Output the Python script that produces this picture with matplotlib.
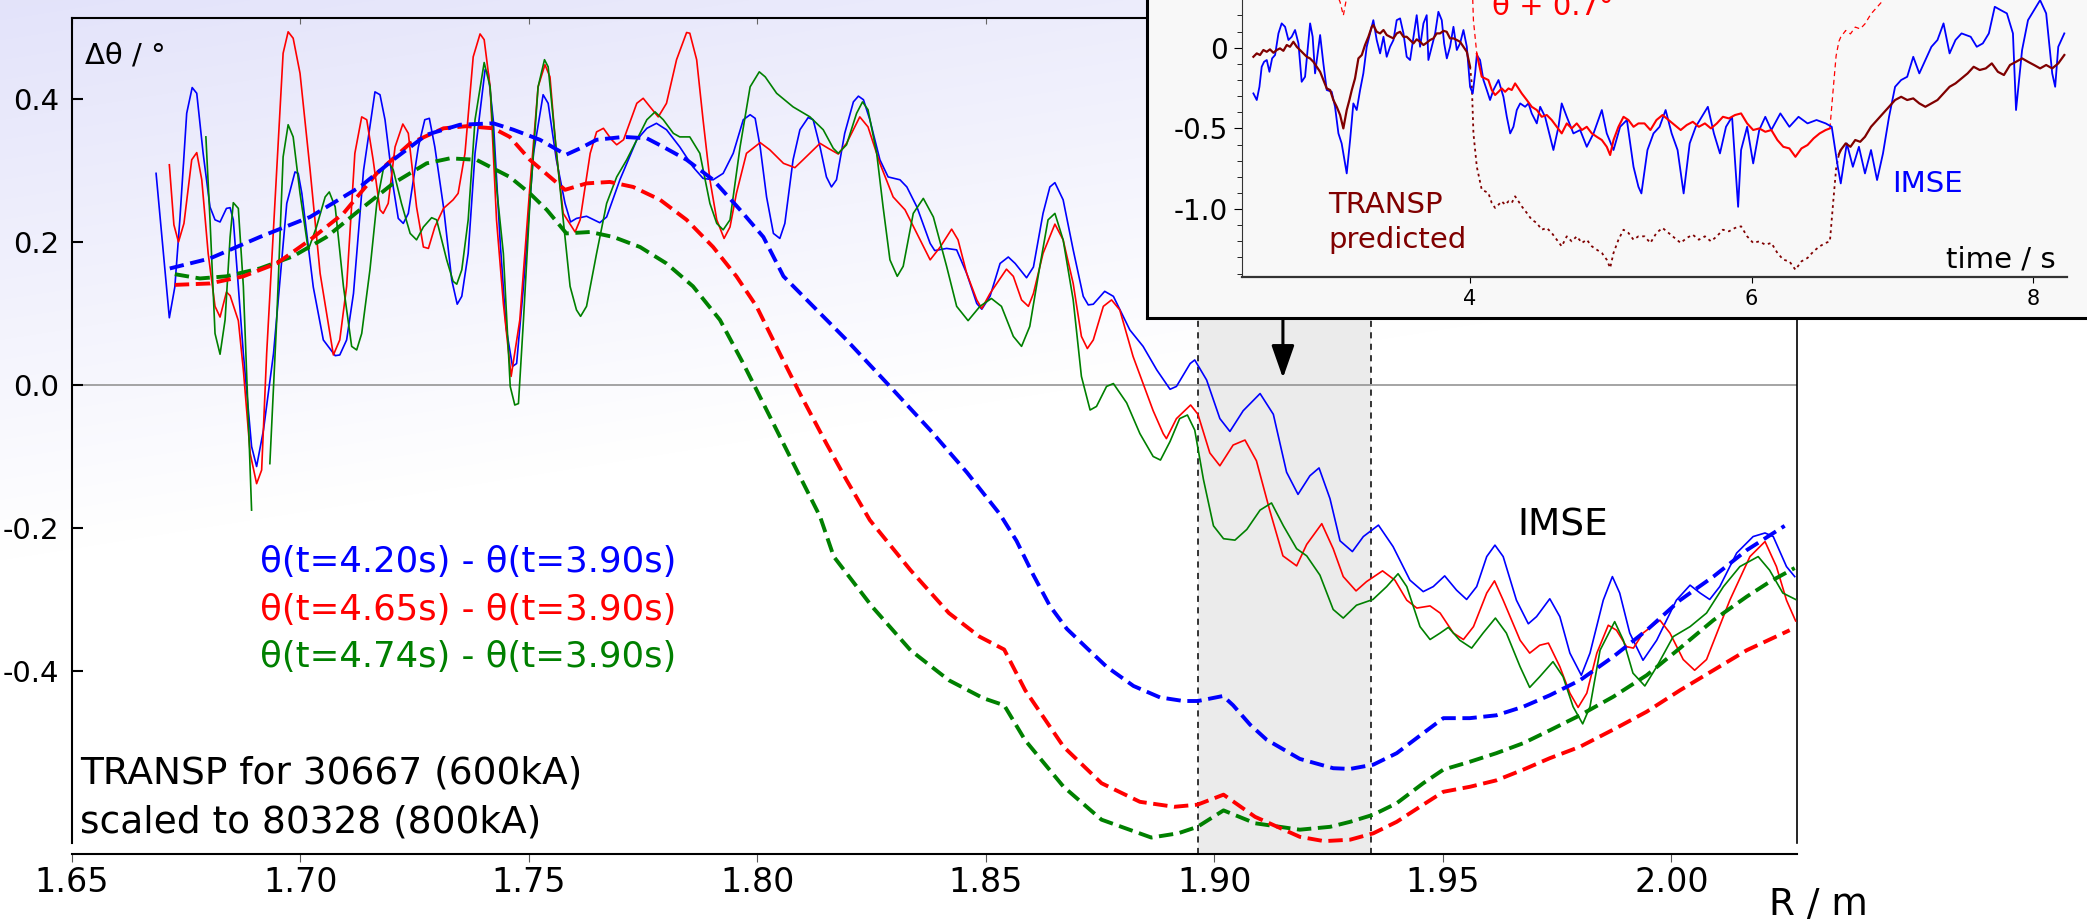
import numpy as np
import matplotlib
matplotlib.use('Agg')
import matplotlib.pyplot as plt
from matplotlib.ticker import FormatStrFormatter

plt.rcParams['axes.unicode_minus'] = False

W, H = 2087, 922

# ---------------- main panel: IMSE differences (solid) ----------------
blue_r = [1.6684, 1.6713, 1.6725, 1.6736, 1.6751, 1.6763, 1.6773, 1.6787, 1.6802, 1.6813,
          1.6824, 1.6838, 1.6846, 1.6853, 1.6864, 1.6875, 1.6893, 1.6904, 1.6919, 1.6941,
          1.6970, 1.6988, 1.6995, 1.7003, 1.7028, 1.7050, 1.7076, 1.7086, 1.7101, 1.7116,
          1.7138, 1.7163, 1.7174, 1.7185, 1.7203, 1.7214, 1.7225, 1.7236, 1.7258, 1.7272,
          1.7282, 1.7294, 1.7313, 1.7331, 1.7343, 1.7353, 1.7367, 1.7382, 1.7404, 1.7411,
          1.7422, 1.7437, 1.7450, 1.7464, 1.7473, 1.7488, 1.7510, 1.7531, 1.7542, 1.7560,
          1.7579, 1.7591, 1.7604, 1.7626, 1.7655, 1.7670, 1.7699, 1.7736, 1.7758, 1.7779,
          1.7801, 1.7830, 1.7859, 1.7881, 1.7903, 1.7925, 1.7947, 1.7969, 1.7984, 1.7995,
          1.8006, 1.8020, 1.8035, 1.8049, 1.8060, 1.8078, 1.8093, 1.8111, 1.8122, 1.8137,
          1.8151, 1.8162, 1.8173, 1.8191, 1.8210, 1.8221, 1.8232, 1.8246, 1.8268, 1.8286,
          1.8312, 1.8327, 1.8349, 1.8378, 1.8388, 1.8414, 1.8436, 1.8458, 1.8480, 1.8491,
          1.8509, 1.8531, 1.8549, 1.8564, 1.8589, 1.8604, 1.8625, 1.8640, 1.8651, 1.8669,
          1.8691, 1.8713, 1.8724, 1.8735, 1.8760, 1.8779, 1.8815, 1.8844, 1.8874, 1.8903,
          1.8917, 1.8947, 1.8957, 1.8983, 1.9012, 1.9034, 1.9063, 1.9100, 1.9129, 1.9158,
          1.9183, 1.9209, 1.9229, 1.9253, 1.9275, 1.9302, 1.9326, 1.9359, 1.9391, 1.9428,
          1.9457, 1.9479, 1.9504, 1.9530, 1.9552, 1.9574, 1.9596, 1.9614, 1.9632, 1.9661,
          1.9687, 1.9705, 1.9734, 1.9756, 1.9778, 1.9803, 1.9822, 1.9851, 1.9871, 1.9887,
          1.9909, 1.9938, 1.9968, 2.0011, 2.0041, 2.0063, 2.0084, 2.0106, 2.0143, 2.0179,
          2.0205, 2.0223, 2.0252, 2.0270]
blue_v = [0.296, 0.094, 0.137, 0.231, 0.380, 0.416, 0.408, 0.324, 0.249, 0.231,
          0.228, 0.247, 0.248, 0.231, 0.138, 0.044, -0.086, -0.114, -0.063, 0.044,
          0.254, 0.298, 0.296, 0.268, 0.137, 0.063, 0.041, 0.042, 0.063, 0.128,
          0.300, 0.410, 0.406, 0.371, 0.277, 0.233, 0.226, 0.240, 0.333, 0.371,
          0.373, 0.333, 0.249, 0.147, 0.113, 0.124, 0.184, 0.324, 0.441, 0.436,
          0.370, 0.200, 0.080, 0.026, 0.030, 0.138, 0.324, 0.406, 0.394, 0.315,
          0.254, 0.228, 0.233, 0.236, 0.227, 0.235, 0.287, 0.343, 0.359, 0.366,
          0.357, 0.333, 0.305, 0.289, 0.287, 0.296, 0.324, 0.371, 0.378, 0.373,
          0.333, 0.263, 0.212, 0.205, 0.226, 0.315, 0.357, 0.374, 0.371, 0.333,
          0.291, 0.277, 0.287, 0.352, 0.396, 0.404, 0.399, 0.371, 0.315, 0.291,
          0.287, 0.277, 0.249, 0.198, 0.188, 0.191, 0.189, 0.156, 0.114, 0.106,
          0.124, 0.170, 0.179, 0.170, 0.150, 0.165, 0.240, 0.277, 0.283, 0.259,
          0.189, 0.124, 0.112, 0.113, 0.131, 0.124, 0.077, 0.054, 0.021, -0.006,
          -0.002, 0.030, 0.035, 0.007, -0.047, -0.065, -0.036, -0.012, -0.041, -0.122,
          -0.153, -0.127, -0.116, -0.159, -0.218, -0.233, -0.212, -0.196, -0.226, -0.273,
          -0.289, -0.282, -0.267, -0.287, -0.300, -0.282, -0.240, -0.224, -0.240, -0.301,
          -0.334, -0.324, -0.299, -0.324, -0.375, -0.406, -0.375, -0.301, -0.268, -0.291,
          -0.347, -0.385, -0.357, -0.301, -0.280, -0.291, -0.300, -0.282, -0.235, -0.212,
          -0.207, -0.212, -0.254, -0.268]

red_r = [1.6713, 1.6723, 1.6733, 1.6745, 1.6762, 1.6773, 1.6784, 1.6798, 1.6813, 1.6824,
         1.6838, 1.6846, 1.6864, 1.6875, 1.6890, 1.6904, 1.6915, 1.6926, 1.6948, 1.6962,
         1.6973, 1.6984, 1.6999, 1.7021, 1.7043, 1.7072, 1.7086, 1.7101, 1.7119, 1.7134,
         1.7145, 1.7159, 1.7174, 1.7181, 1.7192, 1.7207, 1.7224, 1.7236, 1.7254, 1.7269,
         1.7280, 1.7294, 1.7313, 1.7334, 1.7345, 1.7360, 1.7378, 1.7393, 1.7402, 1.7415,
         1.7429, 1.7444, 1.7461, 1.7480, 1.7502, 1.7520, 1.7535, 1.7546, 1.7560, 1.7575,
         1.7601, 1.7612, 1.7634, 1.7648, 1.7663, 1.7681, 1.7692, 1.7707, 1.7736, 1.7750,
         1.7765, 1.7783, 1.7801, 1.7823, 1.7845, 1.7852, 1.7867, 1.7881, 1.7896, 1.7911,
         1.7927, 1.7940, 1.7954, 1.7976, 1.8006, 1.8027, 1.8057, 1.8082, 1.8100, 1.8137,
         1.8155, 1.8177, 1.8195, 1.8224, 1.8242, 1.8268, 1.8297, 1.8323, 1.8349, 1.8378,
         1.8400, 1.8425, 1.8439, 1.8458, 1.8480, 1.8491, 1.8509, 1.8545, 1.8560, 1.8578,
         1.8593, 1.8604, 1.8625, 1.8651, 1.8669, 1.8691, 1.8709, 1.8722, 1.8735, 1.8757,
         1.8775, 1.8793, 1.8822, 1.8844, 1.8866, 1.8888, 1.8895, 1.8917, 1.8948, 1.8964,
         1.8990, 1.9012, 1.9041, 1.9067, 1.9092, 1.9121, 1.9150, 1.9180, 1.9202, 1.9235,
         1.9260, 1.9282, 1.9310, 1.9333, 1.9368, 1.9395, 1.9421, 1.9443, 1.9472, 1.9494,
         1.9523, 1.9545, 1.9567, 1.9596, 1.9613, 1.9632, 1.9669, 1.9690, 1.9712, 1.9731,
         1.9756, 1.9778, 1.9796, 1.9815, 1.9837, 1.9862, 1.9880, 1.9902, 1.9917, 1.9938,
         1.9975, 1.9997, 2.0026, 2.0051, 2.0077, 2.0128, 2.0172, 2.0205, 2.0230, 2.0252,
         2.0272]
red_v = [0.308, 0.224, 0.200, 0.226, 0.315, 0.325, 0.287, 0.184, 0.110, 0.095,
         0.130, 0.125, 0.090, 0.021, -0.096, -0.138, -0.119, 0.044, 0.301, 0.464,
         0.494, 0.485, 0.436, 0.301, 0.156, 0.042, 0.063, 0.138, 0.324, 0.375,
         0.371, 0.315, 0.245, 0.240, 0.254, 0.333, 0.365, 0.352, 0.249, 0.193,
         0.191, 0.221, 0.247, 0.259, 0.268, 0.324, 0.459, 0.491, 0.483, 0.417,
         0.231, 0.114, 0.012, 0.091, 0.277, 0.417, 0.448, 0.431, 0.324, 0.240,
         0.214, 0.231, 0.324, 0.354, 0.359, 0.343, 0.336, 0.343, 0.394, 0.401,
         0.389, 0.375, 0.394, 0.455, 0.493, 0.492, 0.455, 0.371, 0.287, 0.231,
         0.205, 0.221, 0.268, 0.324, 0.339, 0.329, 0.310, 0.304, 0.315, 0.338,
         0.331, 0.323, 0.338, 0.375, 0.361, 0.310, 0.263, 0.245, 0.212, 0.175,
         0.193, 0.218, 0.203, 0.156, 0.119, 0.107, 0.128, 0.162, 0.152, 0.119,
         0.110, 0.128, 0.184, 0.225, 0.203, 0.142, 0.068, 0.051, 0.063, 0.110,
         0.119, 0.105, 0.040, 0.002, -0.036, -0.068, -0.075, -0.047, -0.028, -0.041,
         -0.095, -0.113, -0.084, -0.077, -0.106, -0.175, -0.239, -0.253, -0.223, -0.194,
         -0.229, -0.268, -0.288, -0.275, -0.260, -0.273, -0.301, -0.312, -0.309, -0.319,
         -0.347, -0.356, -0.338, -0.291, -0.274, -0.301, -0.357, -0.375, -0.364, -0.361,
         -0.394, -0.431, -0.451, -0.431, -0.375, -0.336, -0.343, -0.366, -0.368, -0.347,
         -0.329, -0.347, -0.384, -0.399, -0.384, -0.301, -0.240, -0.219, -0.254, -0.301,
         -0.330]

green_r = [1.6793, 1.6802, 1.6813, 1.6824, 1.6835, 1.6846, 1.6853, 1.6864, 1.6875, 1.6886,
           1.6893, 1.6913, 1.6933, 1.6948, 1.6962, 1.6973, 1.6984, 1.6999, 1.7017, 1.7035,
           1.7054, 1.7063, 1.7076, 1.7094, 1.7112, 1.7123, 1.7134, 1.7152, 1.7167, 1.7181,
           1.7192, 1.7203, 1.7221, 1.7240, 1.7254, 1.7269, 1.7287, 1.7298, 1.7320, 1.7334,
           1.7342, 1.7353, 1.7367, 1.7382, 1.7402, 1.7415, 1.7429, 1.7444, 1.7459, 1.7469,
           1.7477, 1.7488, 1.7502, 1.7520, 1.7534, 1.7542, 1.7557, 1.7575, 1.7590, 1.7604,
           1.7613, 1.7626, 1.7648, 1.7670, 1.7692, 1.7714, 1.7736, 1.7758, 1.7776, 1.7794,
           1.7816, 1.7830, 1.7852, 1.7874, 1.7896, 1.7911, 1.7925, 1.7940, 1.7962, 1.7984,
           1.8004, 1.8017, 1.8042, 1.8078, 1.8115, 1.8144, 1.8166, 1.8177, 1.8195, 1.8217,
           1.8230, 1.8242, 1.8261, 1.8275, 1.8290, 1.8306, 1.8319, 1.8341, 1.8363, 1.8385,
           1.8414, 1.8436, 1.8461, 1.8487, 1.8512, 1.8534, 1.8560, 1.8578, 1.8596, 1.8618,
           1.8636, 1.8651, 1.8669, 1.8691, 1.8709, 1.8728, 1.8742, 1.8764, 1.8779, 1.8808,
           1.8837, 1.8866, 1.8882, 1.8903, 1.8924, 1.8941, 1.8957, 1.8976, 1.8998, 1.9020,
           1.9045, 1.9071, 1.9100, 1.9125, 1.9151, 1.9180, 1.9202, 1.9231, 1.9260, 1.9282,
           1.9311, 1.9347, 1.9377, 1.9402, 1.9421, 1.9450, 1.9472, 1.9494, 1.9512, 1.9537,
           1.9563, 1.9588, 1.9615, 1.9639, 1.9669, 1.9690, 1.9712, 1.9741, 1.9763, 1.9785,
           1.9806, 1.9822, 1.9844, 1.9876, 1.9895, 1.9916, 1.9942, 1.9968, 2.0004, 2.0041,
           2.0077, 2.0114, 2.0150, 2.0190, 2.0215, 2.0244, 2.0272]
green_v = [0.347, 0.231, 0.072, 0.043, 0.091, 0.207, 0.255, 0.247, 0.138, -0.049,
           -0.175, np.nan, -0.110, 0.091, 0.319, 0.364, 0.347, 0.268, 0.189, 0.221,
           0.263, 0.270, 0.249, 0.138, 0.054, 0.049, 0.072, 0.161, 0.254, 0.301,
           0.312, 0.301, 0.254, 0.212, 0.203, 0.221, 0.234, 0.231, 0.175, 0.145,
           0.141, 0.161, 0.231, 0.371, 0.451, 0.417, 0.277, 0.184, -0.002, -0.028,
           -0.026, 0.091, 0.254, 0.417, 0.455, 0.445, 0.347, 0.231, 0.138, 0.105,
           0.096, 0.110, 0.184, 0.254, 0.291, 0.315, 0.343, 0.371, 0.382, 0.371,
           0.352, 0.347, 0.347, 0.324, 0.254, 0.226, 0.217, 0.231, 0.333, 0.417,
           0.438, 0.431, 0.408, 0.389, 0.375, 0.357, 0.331, 0.324, 0.336, 0.380,
           0.396, 0.385, 0.324, 0.249, 0.175, 0.152, 0.166, 0.240, 0.261, 0.235,
           0.166, 0.110, 0.090, 0.110, 0.121, 0.110, 0.068, 0.054, 0.082, 0.166,
           0.231, 0.240, 0.203, 0.119, 0.012, -0.035, -0.030, -0.002, 0.002, -0.025,
           -0.068, -0.100, -0.105, -0.079, -0.047, -0.042, -0.063, -0.132, -0.197, -0.215,
           -0.217, -0.202, -0.175, -0.165, -0.197, -0.229, -0.239, -0.266, -0.314, -0.326,
           -0.308, -0.300, -0.282, -0.264, -0.282, -0.338, -0.356, -0.347, -0.339, -0.357,
           -0.368, -0.347, -0.326, -0.347, -0.394, -0.423, -0.408, -0.387, -0.408, -0.450,
           -0.474, -0.450, -0.371, -0.331, -0.357, -0.403, -0.421, -0.394, -0.352, -0.338,
           -0.319, -0.282, -0.254, -0.240, -0.259, -0.291, -0.300]

# ---------------- main panel: TRANSP predictions (dashed) ----------------
tr_blue_r = [1.6714, 1.6802, 1.6911, 1.7021, 1.7130, 1.7203, 1.7276, 1.7349, 1.7422, 1.7466,
             1.7524, 1.7581, 1.7612, 1.7648, 1.7707, 1.7758, 1.7794, 1.7845, 1.7903, 1.7962,
             1.8013, 1.8057, 1.8122, 1.8195, 1.8290, 1.8378, 1.8458, 1.8531, 1.8567, 1.8604,
             1.8640, 1.8677, 1.8721, 1.8764, 1.8823, 1.8881, 1.8932, 1.8964, 1.9019, 1.9041,
             1.9078, 1.9114, 1.9187, 1.9260, 1.9297, 1.9348, 1.9399, 1.9457, 1.9501, 1.9559,
             1.9617, 1.9676, 1.9734, 1.9800, 1.9873, 1.9946, 2.0019, 2.0092, 2.0165, 2.0248]
tr_blue_v = [0.163, 0.177, 0.207, 0.235, 0.277, 0.315, 0.350, 0.364, 0.366, 0.357,
             0.343, 0.322, 0.331, 0.343, 0.347, 0.345, 0.333, 0.315, 0.287, 0.245,
             0.207, 0.152, 0.110, 0.063, -0.002, -0.063, -0.122, -0.181, -0.218, -0.266,
             -0.309, -0.341, -0.368, -0.394, -0.421, -0.437, -0.442, -0.442, -0.435, -0.448,
             -0.475, -0.496, -0.523, -0.536, -0.537, -0.531, -0.515, -0.487, -0.466, -0.466,
             -0.462, -0.450, -0.434, -0.413, -0.380, -0.343, -0.301, -0.268, -0.231, -0.197]

tr_red_r = [1.6725, 1.6802, 1.6875, 1.6948, 1.7021, 1.7094, 1.7167, 1.7240, 1.7313, 1.7364,
            1.7422, 1.7458, 1.7502, 1.7579, 1.7626, 1.7677, 1.7728, 1.7787, 1.7845, 1.7903,
            1.7954, 1.7998, 1.8049, 1.8093, 1.8151, 1.8195, 1.8246, 1.8335, 1.8419, 1.8486,
            1.8540, 1.8586, 1.8670, 1.8753, 1.8837, 1.8912, 1.8963, 1.9020, 1.9089, 1.9187,
            1.9240, 1.9297, 1.9348, 1.9399, 1.9457, 1.9501, 1.9559, 1.9617, 1.9676, 1.9734,
            1.9800, 1.9873, 1.9946, 2.0019, 2.0092, 2.0165, 2.0259]
tr_red_v = [0.140, 0.142, 0.152, 0.170, 0.203, 0.240, 0.296, 0.338, 0.359, 0.362,
            0.359, 0.347, 0.315, 0.273, 0.282, 0.284, 0.277, 0.259, 0.231, 0.193,
            0.152, 0.110, 0.044, -0.012, -0.082, -0.133, -0.189, -0.259, -0.319, -0.352,
            -0.370, -0.427, -0.506, -0.557, -0.583, -0.590, -0.587, -0.573, -0.604, -0.632,
            -0.638, -0.636, -0.627, -0.611, -0.587, -0.569, -0.562, -0.553, -0.538, -0.522,
            -0.506, -0.482, -0.457, -0.427, -0.399, -0.371, -0.343]

tr_green_r = [1.6725, 1.6780, 1.6838, 1.6911, 1.6984, 1.7057, 1.7130, 1.7203, 1.7276, 1.7327,
              1.7385, 1.7458, 1.7502, 1.7539, 1.7582, 1.7634, 1.7685, 1.7743, 1.7801, 1.7859,
              1.7918, 1.7969, 1.8013, 1.8071, 1.8137, 1.8167, 1.8251, 1.8335, 1.8419, 1.8494,
              1.8540, 1.8586, 1.8670, 1.8753, 1.8862, 1.8921, 1.8963, 1.9020, 1.9089, 1.9187,
              1.9253, 1.9297, 1.9348, 1.9399, 1.9457, 1.9501, 1.9559, 1.9617, 1.9676, 1.9734,
              1.9800, 1.9873, 1.9946, 2.0019, 2.0092, 2.0165, 2.0216, 2.0270]
tr_green_v = [0.155, 0.149, 0.152, 0.163, 0.180, 0.207, 0.245, 0.282, 0.310, 0.317,
              0.315, 0.291, 0.268, 0.245, 0.212, 0.214, 0.207, 0.193, 0.170, 0.138,
              0.091, 0.030, -0.026, -0.100, -0.184, -0.240, -0.310, -0.371, -0.413, -0.438,
              -0.448, -0.497, -0.562, -0.608, -0.633, -0.627, -0.618, -0.595, -0.613, -0.622,
              -0.618, -0.611, -0.601, -0.585, -0.557, -0.538, -0.527, -0.515, -0.501, -0.483,
              -0.462, -0.436, -0.406, -0.368, -0.329, -0.296, -0.275, -0.256]

x_ticks = [1.65, 1.70, 1.75, 1.80, 1.85, 1.90, 1.95, 2.00]
y_ticks = [-0.4, -0.2, 0.0, 0.2, 0.4]
window = (1.8964, 1.9343)
arrow_r = 1.915

legend_lines = ['θ(t=4.20s) - θ(t=3.90s)', 'θ(t=4.65s) - θ(t=3.90s)', 'θ(t=4.74s) - θ(t=3.90s)']

# ---------------- inset: time traces ----------------
transp_t = [2.461, 2.485, 2.508, 2.532, 2.556, 2.579, 2.603, 2.627, 2.650, 2.674,
            2.698, 2.721, 2.745, 2.769, 2.792, 2.816, 2.840, 2.863, 2.887, 2.911,
            2.935, 2.958, 2.982, 3.006, 3.029, 3.053, 3.077, 3.100, 3.124, 3.143,
            3.160, 3.183, 3.207, 3.231, 3.254, 3.278, 3.302, 3.313, 3.337, 3.361,
            3.385, 3.408, 3.432, 3.456, 3.479, 3.503, 3.527, 3.550, 3.574, 3.598,
            3.621, 3.645, 3.669, 3.692, 3.716, 3.740, 3.763, 3.787, 3.811, 3.834,
            3.858, 3.882, 3.906, 3.929, 3.953, 3.977, 4.000,
            4.012, 4.024, 4.048, 4.083,
            4.107, 4.130, 4.154, 4.178, 4.202, 4.225, 4.249, 4.273, 4.296, 4.320,
            4.344, 4.367, 4.403, 4.438, 4.474, 4.509, 4.545, 4.580, 4.616, 4.651,
            4.687, 4.722, 4.758, 4.794, 4.829, 4.865, 4.900, 4.936, 4.971, 4.995,
            5.019, 5.054, 5.090, 5.125, 5.161, 5.196, 5.239, 5.281, 5.324, 5.367,
            5.410, 5.453, 5.496, 5.539, 5.582, 5.625, 5.668, 5.711, 5.753, 5.796,
            5.839, 5.882, 5.925, 5.968, 6.011, 6.054, 6.097, 6.140, 6.183, 6.225,
            6.268, 6.311, 6.354, 6.397, 6.440, 6.483, 6.526, 6.556,
            6.580, 6.600, 6.620,
            6.633, 6.668, 6.702, 6.736, 6.771, 6.805, 6.848, 6.891, 6.933, 6.976,
            7.019, 7.062, 7.105, 7.148, 7.191, 7.234, 7.277, 7.320, 7.363, 7.406,
            7.448, 7.491, 7.534, 7.577, 7.620, 7.663, 7.706, 7.749, 7.792, 7.835,
            7.878, 7.921, 7.963, 8.006, 8.049, 8.092, 8.135, 8.178, 8.221]
transp_v = [-0.056, -0.035, -0.045, -0.014, -0.025, -0.010, -0.031, -0.014, -0.004, -0.019,
            0.017, 0.006, 0.037, 0.006, -0.014, -0.035, -0.056, -0.066, -0.087, -0.118,
            -0.149, -0.200, -0.252, -0.262, -0.324, -0.366, -0.417, -0.500, -0.386, -0.324,
            -0.262, -0.190, -0.066, -0.045, 0.017, 0.068, 0.130, 0.140, 0.099, 0.089,
            0.110, 0.079, 0.068, 0.058, 0.089, 0.099, 0.068, 0.068, 0.048, 0.027,
            0.052, 0.037, 0.017, 0.031, 0.048, 0.058, 0.089, 0.089, 0.105, 0.099,
            0.058, 0.058, 0.048, 0.037, 0.006, -0.025, -0.118,
            -0.221, -0.531, -0.738, -0.880,
            -0.890, -0.900, -0.962, -0.993, -0.973, -0.952, -0.973, -0.952, -0.962, -0.921,
            -0.952, -0.983, -1.024, -1.066, -1.086, -1.128, -1.117, -1.148, -1.190, -1.231,
            -1.169, -1.200, -1.169, -1.210, -1.190, -1.231, -1.252, -1.272, -1.314, -1.365,
            -1.272, -1.190, -1.128, -1.148, -1.190, -1.169, -1.169, -1.210, -1.148, -1.117,
            -1.148, -1.179, -1.210, -1.179, -1.159, -1.190, -1.169, -1.200, -1.169, -1.128,
            -1.138, -1.117, -1.107, -1.169, -1.210, -1.200, -1.221, -1.210, -1.272, -1.314,
            -1.324, -1.376, -1.324, -1.303, -1.262, -1.231, -1.210, -1.200,
            -0.950, -0.750, -0.660,
            -0.634, -0.593, -0.614, -0.572, -0.583, -0.552, -0.490, -0.448, -0.407, -0.366,
            -0.324, -0.304, -0.324, -0.314, -0.345, -0.366, -0.345, -0.324, -0.283, -0.242,
            -0.221, -0.190, -0.159, -0.118, -0.138, -0.128, -0.097, -0.149, -0.169, -0.107,
            -0.087, -0.066, -0.087, -0.107, -0.128, -0.107, -0.128, -0.097, -0.045]

imse_t = [2.461, 2.485, 2.504, 2.520, 2.537, 2.556, 2.575, 2.594, 2.615, 2.639,
          2.662, 2.686, 2.710, 2.733, 2.757, 2.781, 2.804, 2.828, 2.864, 2.882,
          2.899, 2.935, 2.958, 2.982, 3.017, 3.041, 3.065, 3.088, 3.124, 3.148,
          3.171, 3.195, 3.219, 3.242, 3.266, 3.290, 3.313, 3.337, 3.361, 3.385,
          3.408, 3.432, 3.456, 3.479, 3.503, 3.527, 3.550, 3.574, 3.598, 3.621,
          3.645, 3.669, 3.692, 3.704, 3.728, 3.752, 3.775, 3.799, 3.816, 3.835,
          3.858, 3.882, 3.906, 3.929, 3.953, 3.977, 4.000, 4.019, 4.036, 4.048,
          4.071, 4.095, 4.119, 4.142, 4.166, 4.202, 4.237, 4.261, 4.285, 4.308,
          4.332, 4.356, 4.391, 4.415, 4.438, 4.474, 4.498, 4.533, 4.569, 4.592,
          4.628, 4.651, 4.687, 4.734, 4.782, 4.829, 4.877, 4.936, 4.971, 5.019,
          5.066, 5.114, 5.161, 5.196, 5.217, 5.260, 5.303, 5.346, 5.389, 5.432,
          5.474, 5.517, 5.560, 5.603, 5.646, 5.689, 5.732, 5.775, 5.818, 5.861,
          5.904, 5.925, 5.968, 6.011, 6.054, 6.097, 6.140, 6.204, 6.268, 6.333,
          6.397, 6.461, 6.526, 6.569, 6.612, 6.633, 6.676, 6.719, 6.762, 6.805,
          6.848, 6.891, 6.933, 6.976, 7.019, 7.062, 7.105, 7.148, 7.191, 7.234,
          7.277, 7.320, 7.363, 7.406, 7.448, 7.491, 7.556, 7.599, 7.642, 7.685,
          7.727, 7.770, 7.813, 7.856, 7.878, 7.921, 7.963, 8.006, 8.049, 8.092,
          8.135, 8.156, 8.178, 8.221]
imse_v = [-0.283, -0.324, -0.242, -0.118, -0.087, -0.076, -0.149, -0.066, -0.045, 0.089,
          0.151, 0.130, 0.048, 0.068, 0.110, 0.027, -0.211, -0.180, 0.151, 0.068,
          -0.159, 0.079, -0.097, -0.262, -0.273, -0.366, -0.531, -0.593, -0.779, -0.572,
          -0.345, -0.386, -0.262, -0.159, 0.006, 0.089, 0.171, 0.048, -0.035, 0.068,
          -0.056, 0.006, 0.048, 0.171, 0.182, 0.089, -0.056, -0.076, 0.068, 0.202,
          0.006, 0.151, 0.202, -0.076, 0.006, 0.089, 0.223, 0.171, 0.027, -0.066,
          0.006, 0.130, -0.014, 0.027, 0.110, 0.006, -0.242, -0.283, -0.159, -0.045,
          -0.076, -0.200, -0.262, -0.324, -0.262, -0.200, -0.304, -0.428, -0.531, -0.490,
          -0.386, -0.345, -0.366, -0.345, -0.407, -0.469, -0.366, -0.428, -0.552, -0.634,
          -0.490, -0.345, -0.428, -0.531, -0.510, -0.614, -0.531, -0.386, -0.531, -0.634,
          -0.490, -0.448, -0.738, -0.862, -0.903, -0.634, -0.531, -0.490, -0.386, -0.531,
          -0.634, -0.903, -0.593, -0.490, -0.428, -0.366, -0.531, -0.655, -0.490, -0.428,
          -0.986, -0.634, -0.490, -0.717, -0.510, -0.428, -0.510, -0.407, -0.490, -0.428,
          -0.469, -0.448, -0.469, -0.490, -0.738, -0.841, -0.593, -0.738, -0.614, -0.779,
          -0.634, -0.820, -0.655, -0.428, -0.242, -0.200, -0.180, -0.056, -0.159, -0.076,
          0.006, 0.048, 0.151, -0.035, 0.048, 0.089, 0.068, 0.006, 0.027, 0.089,
          0.254, 0.233, 0.213, 0.089, -0.386, -0.014, 0.171, 0.233, 0.295, 0.213,
          -0.159, -0.242, 0.006, 0.089]

offset = 0.7           # "θ + 0.7°"
shift_start, shift_end = 4.0, 6.62   # period where the TRANSP trace is shown shifted


def fx(px):
    return px / W


def fy(py):
    return 1 - py / H


fig = plt.figure(figsize=(W / 100, H / 100), dpi=100)

# soft lavender background, fading to white
bg = fig.add_axes([0, 0, 1, 1], zorder=-10)
yy, xx = np.mgrid[0:H, 0:W]
f = np.clip(1 - (yy + 0.16 * xx) / 560.0, 0, 1)
lav = np.array([0.89, 0.89, 0.98])
bg.imshow(1 - f[..., None] * (1 - lav), extent=[0, 1, 0, 1], aspect='auto')
bg.axis('off')

# ---------------- main axes ----------------
ax = fig.add_axes([fx(72), fy(854), fx(1797) - fx(72), (854 - 18) / H])
ax.set_facecolor('none')
ax.set_xlim(1.65, 2.0275)
ax.set_ylim(-0.656, 0.5133)

for s in ['left', 'right', 'top', 'bottom']:
    ax.spines[s].set_linewidth(1.5)
ax.spines['left'].set_bounds(-0.6406, 0.5133)
ax.spines['right'].set_bounds(-0.6406, 0.5133)
ax.spines['right'].set_linewidth(1.2)

ax.set_xticks(x_ticks)
ax.xaxis.set_major_formatter(FormatStrFormatter('%.2f'))
ax.tick_params(axis='x', direction='out', length=5.8, width=0.8, color='#555555',
               labelsize=24, pad=3)
ax.set_yticks(y_ticks)
ax.yaxis.set_major_formatter(FormatStrFormatter('%.1f'))
ax.tick_params(axis='y', direction='in', length=8, width=1.5, labelsize=21, pad=9)

sec = ax.secondary_xaxis('top')
sec.set_xticks(x_ticks)
sec.tick_params(direction='in', length=4.5, width=0.8, color='#666666', labeltop=False)
sec.spines['top'].set_visible(False)

ax.axvspan(window[0], window[1], color='#ebebeb', lw=0, zorder=0)
for xv in window:
    ax.axvline(xv, color='k', lw=1.1, ls=(0, (4, 3.5)), zorder=1)
ax.axhline(0, color='#8c8c8c', lw=1.1, zorder=1.5)

ax.plot(blue_r, blue_v, color='#0000ff', lw=1.2, zorder=3)
ax.plot(red_r, red_v, color='#ff0000', lw=1.2, zorder=3)
ax.plot(green_r, green_v, color='#008000', lw=1.2, zorder=3)

ax.plot(tr_green_r, tr_green_v, color='#008000', lw=2.8, dashes=(3.7, 1.7), zorder=4)
ax.plot(tr_red_r, tr_red_v, color='#ff0000', lw=2.8, dashes=(3.7, 1.7), zorder=4)
ax.plot(tr_blue_r, tr_blue_v, color='#0000ff', lw=2.8, dashes=(3.7, 1.7), zorder=4)

ax.annotate('', xy=(arrow_r, 0.0098), xytext=(arrow_r, 0.0937),
            arrowprops=dict(arrowstyle='-|>,head_width=0.35,head_length=1.0', color='k',
                            lw=2.2, mutation_scale=20, shrinkA=0, shrinkB=0), zorder=5)

fig.text(fx(85), fy(63), 'Δθ / °', fontsize=21, va='baseline')
for txt, col, yb in zip(legend_lines, ['#0000ff', '#ff0000', '#008000'], [572, 620, 667]):
    fig.text(fx(260), fy(yb), txt, color=col, fontsize=25.6, va='baseline')
fig.text(fx(80), fy(783), 'TRANSP for 30667 (600kA)', fontsize=27, va='baseline')
fig.text(fx(80), fy(832), 'scaled to 80328 (800kA)', fontsize=27, va='baseline')
fig.text(fx(1517), fy(535), 'IMSE', fontsize=27, va='baseline')
fig.text(fx(1769), fy(915), 'R / m', fontsize=27, va='baseline')

# ---------------- inset ----------------
box = fig.add_axes([fx(1147), fy(318), 1 - fx(1147) + 0.01, 318 / H + 0.01], zorder=5)
box.set_facecolor('#f8f8f8')
box.set_xticks([])
box.set_yticks([])
box.spines['top'].set_visible(False)
box.spines['right'].set_visible(False)
box.spines['left'].set_linewidth(2.2)
box.spines['bottom'].set_linewidth(2.2)

ins = fig.add_axes([fx(1241.7), fy(277.3), fx(2067) - fx(1241.7), 277.3 / H], zorder=6)
ins.set_facecolor('none')
ins.set_xlim(2.378, 8.24)
ins.set_ylim(-1.423, 0.296)
ins.spines['top'].set_visible(False)
ins.spines['right'].set_visible(False)
ins.spines['left'].set_linewidth(0.8)
ins.spines['left'].set_color('#333333')
ins.spines['bottom'].set_linewidth(1.6)
ins.spines['bottom'].set_color('#333333')
ins.set_xticks([4, 6, 8])
ins.set_yticks([-1.0, -0.5, 0])
ins.set_yticklabels(['-1.0', '-0.5', '0'])
ins.set_yticks(np.arange(-1.4, 0.25, 0.1), minor=True)
ins.tick_params(axis='x', direction='out', length=4.5, labelsize=15, pad=4)
ins.tick_params(axis='y', which='major', direction='out', length=6, labelsize=20, pad=4)
ins.tick_params(axis='y', which='minor', direction='out', length=3.5)

tt = np.array(transp_t)
vv = np.array(transp_v)
solid = (tt <= shift_start) | (tt >= shift_end)
dotted = (tt >= shift_start) & (tt <= 6.633)
red_on = (tt >= 4.048) & (tt <= 6.556)
red_off = (tt <= 4.048) | (tt >= 6.556)

ins.plot(tt, np.where(red_off, vv + offset, np.nan), color='#ff0000', lw=0.9, ls=(0, (4, 3)))
ins.plot(tt, np.where(dotted, vv, np.nan), color='#800000', lw=1.3, ls=(0, (1.5, 2)))
ins.plot(imse_t, imse_v, color='#0000ff', lw=1.3)
ins.plot(tt, np.where(red_on, vv + offset, np.nan), color='#ff0000', lw=1.5)
ins.plot(tt, np.where(solid, vv, np.nan), color='#800000', lw=1.6)

fig.text(fx(1492), fy(15), 'θ + 0.7°', color='#ff0000', fontsize=21, va='baseline', zorder=10)
fig.text(fx(1328), fy(213), 'TRANSP', color='#800000', fontsize=21, va='baseline', zorder=10)
fig.text(fx(1328), fy(248), 'predicted', color='#800000', fontsize=21, va='baseline', zorder=10)
fig.text(fx(1892), fy(192), 'IMSE', color='#0000ff', fontsize=21, va='baseline', zorder=10)
fig.text(fx(1946), fy(267), 'time / s', color='k', fontsize=21, va='baseline', zorder=10)

fig.savefig('out.png', dpi=100)
